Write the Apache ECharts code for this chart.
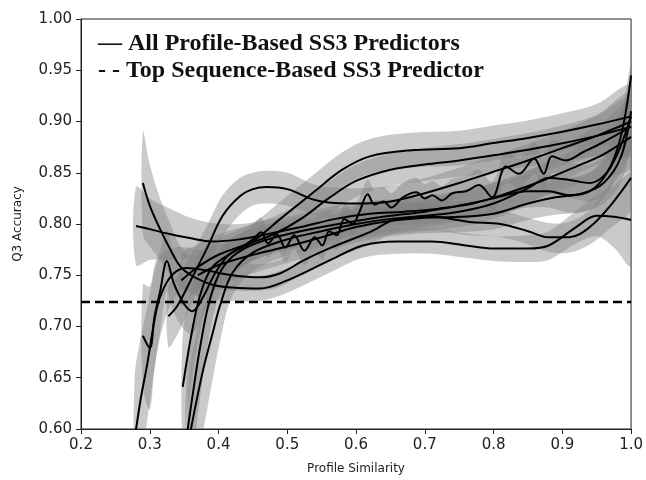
<!DOCTYPE html>
<html>
<head>
<meta charset="utf-8">
<script src="https://cdn.jsdelivr.net/npm/echarts@6/dist/echarts.min.js"></script>
<style>
  html, body { margin: 0; padding: 0; background: #fff; }
  #chart { width: 646px; height: 480px; }
</style>
</head>
<body>
<div id="chart"></div>
<script>
// each point: [profile similarity, Q3 accuracy, band half-width]
const curveF = [[0.28,0.798,0.038],[0.30,0.795,0.03],[0.33,0.79,0.025],[0.36,0.786,0.02],[0.39,0.783,0.018],[0.43,0.785,0.015],[0.47,0.79,0.014],[0.52,0.797,0.013],[0.57,0.805,0.013],[0.62,0.81,0.013],[0.67,0.812,0.013],[0.72,0.815,0.013],[0.77,0.82,0.014],[0.82,0.83,0.015],[0.87,0.842,0.016],[0.92,0.856,0.018],[0.96,0.868,0.022],[1.0,0.885,0.03]]
const curveB1 = [[0.278,0.59,0.06],[0.287,0.63,0.06],[0.296,0.662,0.055],[0.31,0.717,0.045],[0.32,0.737,0.035],[0.335,0.752,0.025],[0.355,0.757,0.02],[0.38,0.755,0.018],[0.42,0.75,0.015],[0.46,0.748,0.013],[0.49,0.752,0.013],[0.525,0.765,0.012],[0.56,0.776,0.012],[0.62,0.792,0.012],[0.66,0.805,0.013],[0.71,0.807,0.013],[0.765,0.802,0.013],[0.81,0.80,0.013],[0.85,0.793,0.013],[0.88,0.787,0.014],[0.91,0.787,0.015],[0.94,0.797,0.017],[0.97,0.818,0.022],[1.0,0.845,0.03]]
const curveB2 = [[0.29,0.84,0.05],[0.30,0.818,0.04],[0.315,0.795,0.03],[0.33,0.775,0.025],[0.344,0.759,0.02],[0.36,0.75,0.018],[0.39,0.741,0.015],[0.42,0.738,0.013],[0.46,0.737,0.012],[0.50,0.745,0.012],[0.56,0.764,0.012],[0.61,0.779,0.012],[0.66,0.783,0.012],[0.71,0.783,0.012],[0.76,0.779,0.012],[0.80,0.776,0.012],[0.85,0.776,0.013],[0.88,0.779,0.014],[0.92,0.797,0.016],[0.95,0.808,0.02],[0.975,0.807,0.03],[1.0,0.804,0.045]]
const curveW = [[0.29,0.691,0.05],[0.30,0.679,0.06],[0.307,0.71,0.05],[0.315,0.734,0.04],[0.325,0.764,0.03],[0.335,0.742,0.028],[0.35,0.722,0.025],[0.362,0.715,0.022],[0.377,0.728,0.018],[0.395,0.752,0.016],[0.415,0.77,0.015],[0.435,0.778,0.014],[0.45,0.785,0.014],[0.462,0.792,0.014],[0.472,0.781,0.014],[0.485,0.79,0.014],[0.497,0.777,0.014],[0.51,0.789,0.014],[0.525,0.774,0.014],[0.54,0.787,0.014],[0.551,0.779,0.014],[0.561,0.793,0.014],[0.572,0.789,0.014],[0.583,0.805,0.014],[0.595,0.80,0.014],[0.605,0.812,0.014],[0.617,0.829,0.014],[0.627,0.819,0.014],[0.64,0.822,0.014],[0.651,0.816,0.014],[0.668,0.826,0.014],[0.688,0.831,0.014],[0.70,0.825,0.014],[0.711,0.828,0.014],[0.725,0.823,0.014],[0.74,0.83,0.014],[0.76,0.832,0.015],[0.779,0.838,0.015],[0.798,0.826,0.015],[0.818,0.856,0.015],[0.837,0.849,0.015],[0.859,0.864,0.016],[0.873,0.849,0.016],[0.885,0.866,0.016],[0.905,0.862,0.017],[0.93,0.87,0.018],[0.96,0.88,0.02],[1.0,0.895,0.025]]
const curveT1 = [[0.327,0.71,0.03],[0.34,0.72,0.028],[0.358,0.743,0.025],[0.383,0.776,0.022],[0.406,0.808,0.02],[0.431,0.827,0.018],[0.45,0.834,0.016],[0.47,0.836,0.016],[0.50,0.834,0.016],[0.537,0.824,0.015],[0.56,0.821,0.015],[0.60,0.82,0.015],[0.65,0.822,0.015],[0.70,0.83,0.015],[0.75,0.84,0.015],[0.80,0.851,0.016],[0.85,0.862,0.016],[0.90,0.874,0.017],[0.95,0.886,0.02],[1.0,0.90,0.028]]
const curveT2 = [[0.348,0.641,0.05],[0.36,0.69,0.045],[0.373,0.73,0.035],[0.39,0.757,0.025],[0.42,0.772,0.02],[0.45,0.783,0.018],[0.49,0.805,0.017],[0.54,0.832,0.017],[0.58,0.853,0.017],[0.62,0.866,0.017],[0.68,0.872,0.017],[0.75,0.874,0.017],[0.80,0.879,0.017],[0.85,0.884,0.017],[0.90,0.89,0.018],[0.95,0.897,0.02],[1.0,0.905,0.03]]
const curveT3 = [[0.346,0.745,0.025],[0.37,0.758,0.022],[0.40,0.77,0.02],[0.44,0.78,0.018],[0.48,0.79,0.017],[0.52,0.805,0.016],[0.56,0.825,0.016],[0.60,0.842,0.016],[0.65,0.853,0.016],[0.70,0.858,0.016],[0.75,0.862,0.016],[0.80,0.867,0.016],[0.88,0.876,0.017],[0.95,0.886,0.02],[1.0,0.895,0.028]]
const curveM2 = [[0.353,0.59,0.06],[0.365,0.645,0.06],[0.373,0.679,0.05],[0.385,0.72,0.035],[0.40,0.75,0.022],[0.42,0.768,0.018],[0.45,0.78,0.016],[0.50,0.79,0.015],[0.55,0.797,0.015],[0.60,0.803,0.015],[0.65,0.808,0.015],[0.70,0.812,0.015],[0.75,0.818,0.015],[0.80,0.825,0.015],[0.85,0.832,0.016],[0.88,0.832,0.016],[0.91,0.828,0.017],[0.94,0.832,0.018],[0.965,0.85,0.02],[0.985,0.885,0.02],[1.0,0.945,0.012]]
const curveM3 = [[0.357,0.59,0.06],[0.377,0.656,0.06],[0.392,0.695,0.045],[0.402,0.72,0.035],[0.42,0.752,0.022],[0.45,0.772,0.018],[0.50,0.785,0.016],[0.55,0.793,0.015],[0.60,0.80,0.015],[0.65,0.805,0.015],[0.70,0.808,0.015],[0.75,0.812,0.015],[0.80,0.82,0.015],[0.85,0.835,0.016],[0.88,0.845,0.016],[0.91,0.843,0.017],[0.94,0.84,0.018],[0.97,0.855,0.02],[1.0,0.905,0.03]]
const curveM4 = [[0.37,0.75,0.022],[0.40,0.76,0.02],[0.45,0.77,0.018],[0.50,0.778,0.016],[0.55,0.787,0.015],[0.60,0.797,0.015],[0.65,0.803,0.015],[0.70,0.806,0.015],[0.75,0.807,0.015],[0.80,0.81,0.015],[0.85,0.82,0.016],[0.89,0.826,0.017],[0.93,0.83,0.018],[0.96,0.84,0.02],[0.985,0.865,0.025],[1.0,0.91,0.03]]

const topSequence = 0.724
const xTicks = [0.2, 0.3, 0.4, 0.5, 0.6, 0.7, 0.8, 0.9, 1.0]
const yTicks = [0.60, 0.65, 0.70, 0.75, 0.80, 0.85, 0.90, 0.95, 1.00]
const legendLines = ['— All Profile-Based SS3 Predictors', '- - Top Sequence-Based SS3 Predictor']

const curves = [curveF, curveB1, curveB2, curveW, curveT1, curveT2, curveT3, curveM2, curveM3, curveM4]

const bandColor = 'rgba(128, 128, 128, 0.42)'
const smoothness = 0.35

const series = []
// confidence bands as one closed polygon per curve
curves.forEach(c => {
  series.push({
    type: 'custom', z: 1, silent: true, clip: true,
    data: c.map(p => [p[0], p[1] - p[2], p[1] + p[2]]),
    encode: { x: 0, y: [1, 2] },
    renderItem: (params, api) => {
      if (params.dataIndex !== 0) return null
      const upper = c.map(p => api.coord([p[0], p[1] + p[2]]))
      const lower = c.map(p => api.coord([p[0], p[1] - p[2]])).reverse()
      return {
        type: 'polygon',
        shape: { points: upper.concat(lower), smooth: smoothness },
        style: { fill: bandColor }
      }
    }
  })
})
curves.forEach(c => {
  series.push({
    type: 'line', smooth: smoothness, symbol: 'none', z: 3,
    lineStyle: { color: '#000', width: 2 },
    data: c.map(p => [p[0], p[1]])
  })
})
series.push({
  type: 'line', symbol: 'none', z: 4,
  lineStyle: { color: '#000', width: 2.5, type: [9, 5] },
  data: [[xTicks[0], topSequence], [xTicks[xTicks.length - 1], topSequence]]
})

const chart = echarts.init(document.getElementById('chart'))
chart.setOption({
  animation: false,
  grid: { left: 81, right: 14, top: 19, bottom: 49, show: true, borderColor: '#222', borderWidth: 1 },
  xAxis: {
    type: 'value',
    min: xTicks[0], max: xTicks[xTicks.length - 1], interval: 0.1,
    name: 'Profile Similarity', nameLocation: 'middle', nameGap: 34,
    nameTextStyle: { fontFamily: 'DejaVu Sans', fontSize: 12, color: '#222' },
    axisLine: { show: true, lineStyle: { color: '#222', width: 1 } },
    axisTick: { show: true, length: 5, lineStyle: { color: '#222' } },
    axisLabel: { margin: 9, fontFamily: 'DejaVu Sans', fontSize: 15, color: '#222', formatter: v => v.toFixed(1) },
    splitLine: { show: false }
  },
  yAxis: {
    type: 'value',
    min: yTicks[0], max: yTicks[yTicks.length - 1], interval: 0.05,
    name: 'Q3 Accuracy', nameLocation: 'middle', nameGap: 57,
    nameTextStyle: { fontFamily: 'DejaVu Sans', fontSize: 12, color: '#222' },
    axisLine: { show: true, lineStyle: { color: '#222', width: 1 } },
    axisTick: { show: true, length: 5, lineStyle: { color: '#222' } },
    axisLabel: { margin: 9, fontFamily: 'DejaVu Sans', fontSize: 15, color: '#222', formatter: v => v.toFixed(2) },
    splitLine: { show: false }
  },
  graphic: legendLines.map((t, i) => ({
    type: 'text', left: 98, top: 32 + i * 27, z: 10,
    style: { text: t, font: 'bold 24px "Liberation Serif"', fill: '#111' }
  })),
  series: series
})
</script>
</body>
</html>
